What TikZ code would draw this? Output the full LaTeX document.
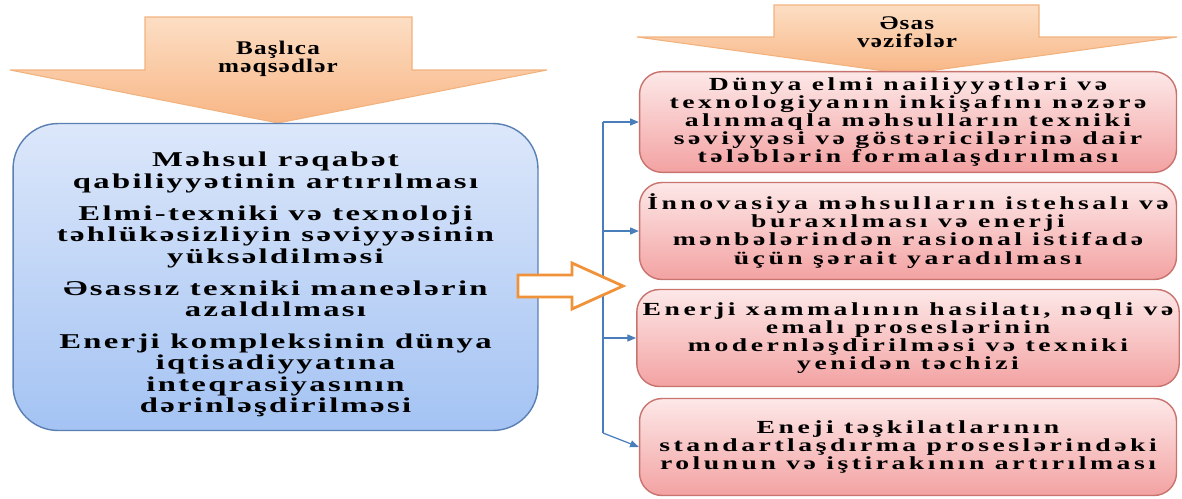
\documentclass[tikz,border=0pt]{standalone}
\usepackage{fontspec}
\setmainfont{Liberation Serif}
\newfontfamily\goalfont[FakeStretch=1.55,LetterSpace=11]{Liberation Serif Bold}
\newfontfamily\taskfont[FakeStretch=1.5,LetterSpace=19]{Liberation Serif Bold}
\newfontfamily\headfont[FakeStretch=1.3,LetterSpace=6]{Liberation Serif Bold}
\usetikzlibrary{arrows.meta}

\definecolor{arrowtop}{HTML}{FCDEC4}
\definecolor{arrowbot}{HTML}{F8B685}
\definecolor{arrowline}{HTML}{F2B27E}
\definecolor{goaltop}{HTML}{DCE7FA}
\definecolor{goalbot}{HTML}{A4C3F3}
\definecolor{goalline}{HTML}{5A7FB3}
\definecolor{tasktop}{HTML}{FDE8E8}
\definecolor{taskbot}{HTML}{F3A2A2}
\definecolor{taskline}{HTML}{C9736F}
\definecolor{linkblue}{HTML}{4A7EBB}
\definecolor{hollowline}{HTML}{F0923A}

\begin{document}
\begin{tikzpicture}[x=0.02cm,y=-0.02cm]
    \tikzstyle{head arrow}=[draw=arrowline, top color=arrowtop, bottom color=arrowbot, line width=0.6pt]
    \tikzstyle{head text}=[align=center, font=\headfont\fontsize{11}{10.5}\selectfont]
    \tikzstyle{goal box}=[draw=goalline, line width=0.8pt, top color=goaltop, bottom color=goalbot,
        rounded corners=0.9cm, minimum width=10.5cm, minimum height=6.14cm, align=center,
        font=\goalfont\fontsize{12}{12.2}\selectfont]
    \tikzstyle{task box}=[draw=taskline, line width=0.8pt, top color=tasktop, bottom color=taskbot,
        rounded corners=0.45cm, minimum width=10.74cm, minimum height=1.94cm, align=center,
        font=\taskfont\fontsize{10.5}{10.3}\selectfont]
    \tikzstyle{bus line}=[draw=linkblue, line width=0.7pt]
    \tikzstyle{link}=[bus line, -{Triangle[length=5pt,width=4pt]}]
    \tikzstyle{hollow arrow}=[draw=hollowline, fill=white, line width=1.6pt]

    \useasboundingbox (0,0) rectangle (1182,498);

    % Draw the two big block arrows
    \path[head arrow] (145,17) -- (412,17) -- (412,70) -- (547,70) -- (278,123)
        -- (10,70) -- (145,70) -- cycle;
    \node[head text] (goal-head) at (278,59) {Başlıca\\ məqsədlər};

    \path[head arrow] (774,5) -- (1039,5) -- (1039,37) -- (1177,37) -- (907,74)
        -- (637,37) -- (774,37) -- cycle;
    \node[head text] (task-head) at (907,32) {Əsas\\ vəzifələr};

    % Draw the goals box
    \node[goal box] (G) at (275.5,277) {\rule{0pt}{17pt}Məhsul rəqabət\\ qabiliyyətinin artırılması\\[6pt]
        Elmi-texniki və texnoloji\\ təhlükəsizliyin səviyyəsinin\\ yüksəldilməsi\\[6pt]
        Əsassız texniki maneələrin\\ azaldılması\\[6pt]
        Enerji kompleksinin dünya\\ iqtisadiyyatına\\ inteqrasiyasının\\ dərinləşdirilməsi};

    % Draw the task boxes
    \foreach \name/\ypos/\txt in {
        1/122/{Dünya elmi nailiyyətləri və\\ texnologiyanın inkişafını nəzərə\\ alınmaqla məhsulların texniki\\ səviyyəsi və göstəricilərinə dair\\ tələblərin formalaşdırılması},
        2/231/{İnnovasiya məhsulların istehsalı və\\ buraxılması və enerji\\ mənbələrindən rasional istifadə\\ üçün şərait yaradılması},
        3/338/{Enerji xammalının hasilatı, nəqli və\\ emalı proseslərinin\\ modernləşdirilməsi və texniki\\ yenidən təchizi},
        4/447/{Eneji təşkilatlarının\\ standartlaşdırma proseslərindəki\\ rolunun və iştirakının artırılması}}
        \node[task box] (T-\name) at (908,\ypos) {\txt};

    % Connect the bus with every task box
    \coordinate (bus) at (603,0);
    \coordinate (bus-end) at (603,433);
    \path[bus line] (bus |- T-1.west) -- (bus-end);
    \foreach \name in {1,2,3}
        \path[link] (bus |- T-\name.west) -- (T-\name.west);
    \path[link] (bus-end) -- (T-4.west);

    % The hollow arrow between goals and tasks
    \path[hollow arrow] (518,275) -- (572,275) -- (572,263) -- (623,286) -- (572,309)
        -- (572,297) -- (518,297) -- cycle;
\end{tikzpicture}
\end{document}
